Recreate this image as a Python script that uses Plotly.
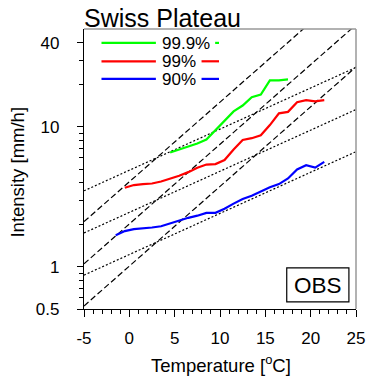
import numpy as np
import plotly.graph_objects as go

# Observed hourly precipitation intensity percentiles vs. temperature (Swiss Plateau)
temp_909 = [4.5, 5.5, 6.5, 7.5, 8.5, 9.5, 10.5, 11.5, 12.5, 13.5, 14.5, 15.5, 16.5, 17.5]
p999 = [6.55, 6.88, 7.23, 7.6, 8.11, 9.46, 11.0, 12.9, 14.2, 16.3, 17.0, 21.5, 21.5, 21.8]

temp_99 = [-0.5, 0.5, 1.5, 2.5, 3.5, 4.5, 5.5, 6.5, 7.5, 8.5, 9.5, 10.5, 11.5,
           12.5, 13.5, 14.5, 15.5, 16.5, 17.5, 18.5, 19.5, 20.5, 21.5]
p99 = [3.67, 3.84, 3.90, 3.94, 4.07, 4.25, 4.47, 4.75, 5.1, 5.38, 5.42, 5.8, 6.9,
       8.05, 8.3, 8.7, 10.3, 12.5, 12.8, 15.0, 15.5, 15.2, 15.5]

temp_90 = [-1.5, -0.5, 0.5, 1.5, 2.5, 3.5, 4.5, 5.5, 6.5, 7.5, 8.5, 9.5, 10.5, 11.5,
           12.5, 13.5, 14.5, 15.5, 16.5, 17.5, 18.5, 19.5, 20.5, 21.5]
p90 = [1.68, 1.80, 1.86, 1.88, 1.91, 1.95, 2.04, 2.15, 2.24, 2.32, 2.43, 2.43, 2.60, 2.83,
       3.05, 3.22, 3.45, 3.70, 3.90, 4.28, 4.96, 5.32, 5.12, 5.62]

# Clausius-Clapeyron reference scaling lines (1xCC dotted, 2xCC dashed)
ref_temp = 3.0
ref_values = [1.5, 3.0, 6.0]
cc_rate = 0.07
cc2_rate = 0.14
x_range = [-5, 25]

x_ticks = [-5, 0, 5, 10, 15, 20, 25]
x_ticklabels = ["-5", "0", "5", "10", "15", "20", "25"]
y_ticks = [0.5, 1, 10, 40]
y_ticklabels = ["0.5", "1", "10", "40"]
y_minor_ticks = [0.6, 0.7, 0.8, 0.9, 2, 3, 4, 5, 6, 7, 8, 9, 20, 30]

series_labels = ["99.9%", "99%", "90%"]
series_colors = ["#00ff00", "#ff0000", "#0000ff"]

FONT = "Liberation Sans, Arial, Helvetica, sans-serif"

# plot-area pixel geometry
W, H = 377, 376
L, R, T, B = 84, 364, 29.4, 309.4
PW, PH = R - L, B - T


def px(x):
    return (x - L) / PW


def py(y):
    return (B - y) / PH


fig = go.Figure()

t_line = np.array(x_range, dtype=float)
for v0 in ref_values:
    fig.add_trace(go.Scatter(
        x=t_line, y=v0 * (1 + cc2_rate) ** (t_line - ref_temp), mode="lines",
        line=dict(color="black", width=1.2, dash="6px,3px"), hoverinfo="skip"))
    fig.add_trace(go.Scatter(
        x=t_line, y=v0 * (1 + cc_rate) ** (t_line - ref_temp), mode="lines",
        line=dict(color="black", width=1.2, dash="2px,2px"), hoverinfo="skip"))

for tx, vals, col in [(temp_909, p999, series_colors[0]),
                      (temp_99, p99, series_colors[1]),
                      (temp_90, p90, series_colors[2])]:
    fig.add_trace(go.Scatter(x=tx, y=vals, mode="lines",
                             line=dict(color=col, width=2.2)))

shapes = []
annotations = []

# top and right frame edges
shapes.append(dict(type="line", xref="paper", yref="paper", x0=0, x1=1, y0=1, y1=1,
                   line=dict(color="#999999", width=1.5)))
shapes.append(dict(type="line", xref="paper", yref="paper", x0=1, x1=1, y0=0, y1=1,
                   line=dict(color="#999999", width=1.5)))

# legend: line split around the label
legend_rows = [43.3, 61.7, 79.3]
legend_gap_end = [219, 205, 205]
for lab, col, yy, g in zip(series_labels, series_colors, legend_rows, legend_gap_end):
    for a, b in [(102, 158), (g, 223)]:
        shapes.append(dict(type="line", xref="paper", yref="paper",
                           x0=px(a), x1=px(b), y0=py(yy), y1=py(yy),
                           line=dict(color=col, width=2.2)))
    annotations.append(dict(text=lab, xref="paper", yref="paper", x=px(163), y=py(yy),
                            xanchor="left", yanchor="middle", showarrow=False,
                            height=16, borderpad=0,
                            font=dict(family=FONT, size=17, color="black")))

# OBS label box
shapes.append(dict(type="rect", xref="paper", yref="paper",
                   x0=px(292.7), x1=px(356.7), y0=py(302.3), y1=py(268.3),
                   line=dict(color="black", width=1.2), fillcolor="white"))
annotations.append(dict(text="OBS", xref="paper", yref="paper", x=px(324.7), y=py(285.5),
                        xanchor="center", yanchor="middle", showarrow=False,
                        font=dict(family=FONT, size=22.5, color="black")))

# title and axis titles
annotations.append(dict(text="Swiss Plateau", xref="paper", yref="paper", x=px(82), y=py(18),
                        xanchor="left", yanchor="middle", showarrow=False,
                        font=dict(family=FONT, size=25, color="black")))
annotations.append(dict(text="Temperature [<sup>o</sup>C]", xref="paper", yref="paper",
                        x=px(224.7), y=py(364), xanchor="center", yanchor="middle",
                        showarrow=False, font=dict(family=FONT, size=18.5, color="black")))
annotations.append(dict(text="Intensity [mm/h]", xref="paper", yref="paper",
                        x=px(16), y=py(172), xanchor="center", yanchor="middle",
                        textangle=-90, showarrow=False,
                        font=dict(family=FONT, size=18.5, color="black")))

fig.update_layout(
    width=W, height=H,
    margin=dict(l=L, r=W - R, t=T, b=H - B, pad=0),
    paper_bgcolor="white", plot_bgcolor="white",
    showlegend=False,
    shapes=shapes, annotations=annotations,
    font=dict(family=FONT, size=17, color="black"),
)

fig.update_xaxes(
    range=x_range, showgrid=False, zeroline=False,
    showline=True, linecolor="black", linewidth=1.2, mirror=False,
    tickmode="array", tickvals=x_ticks, ticktext=x_ticklabels,
    ticks="outside", ticklen=7, tickwidth=1.2, tickcolor="black",
    ticklabelstandoff=6,
    minor=dict(ticks="outside", ticklen=3.5, tickwidth=1.2, tickcolor="black",
               dtick=1, showgrid=False),
    tickfont=dict(family=FONT, size=17, color="black"),
)
fig.update_yaxes(
    type="log", range=[np.log10(0.5), np.log10(50)], showgrid=False, zeroline=False,
    showline=True, linecolor="black", linewidth=1.2, mirror=False,
    tickmode="array", tickvals=y_ticks, ticktext=y_ticklabels,
    ticks="outside", ticklen=6, tickwidth=1.2, tickcolor="black",
    ticklabelstandoff=14,
    minor=dict(ticks="outside", ticklen=3.5, tickwidth=1.2, tickcolor="black",
               tickmode="array", tickvals=y_minor_ticks, showgrid=False),
    tickfont=dict(family=FONT, size=17, color="black"),
)

fig.write_html("out.html")
